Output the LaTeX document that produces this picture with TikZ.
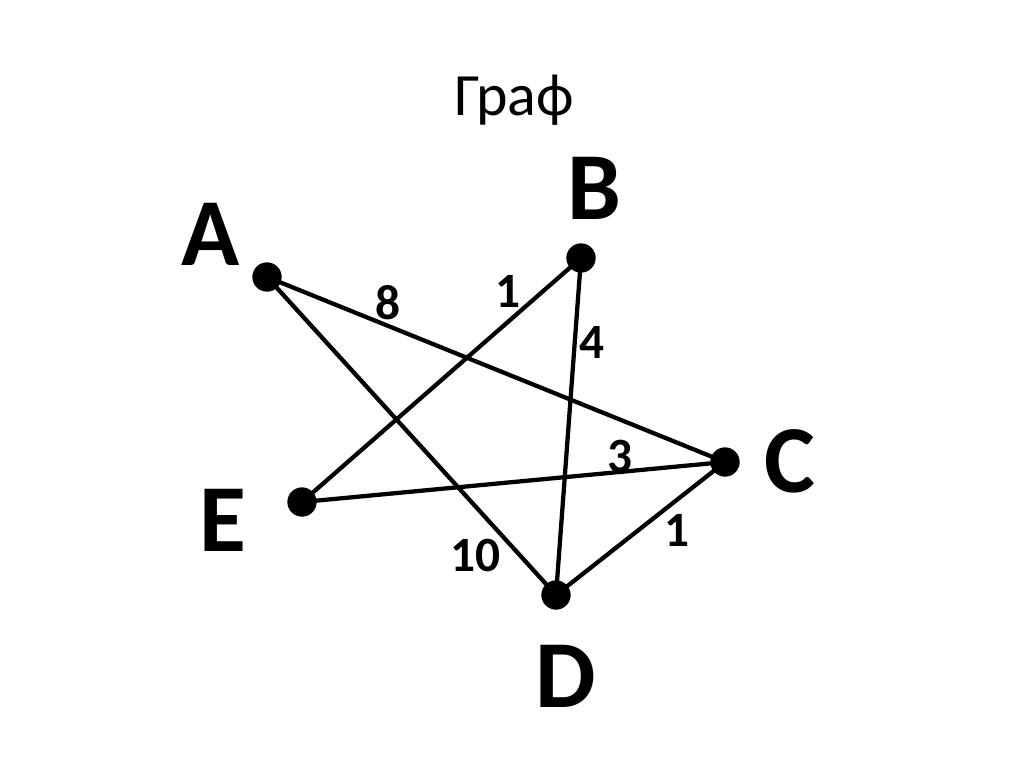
\documentclass[tikz,border=0pt]{standalone}
\usepackage{fontspec}
\setmainfont{Carlito}
\begin{document}
\begin{tikzpicture}[x=0.75pt,y=-0.75pt,
  vtx/.style={circle,fill=black,inner sep=0pt,minimum size=22pt},
  lbl/.style={font=\fontsize{72}{76}\selectfont\bfseries,inner sep=0pt},
  wt/.style={font=\fontsize{37}{40}\selectfont\bfseries,inner sep=0pt},
  edge/.style={line width=3.2pt}]
\useasboundingbox (0,0) rectangle (1024,768);
\node[anchor=base,font=\fontsize{45}{50}\selectfont,inner sep=0pt] (title) at (514,115) {Граф};
\node[vtx] (A) at (267,277) {};
\node[vtx] (B) at (581,258) {};
\node[vtx] (C) at (725,462) {};
\node[vtx] (D) at (556,595) {};
\node[vtx] (E) at (302,502) {};
\node[lbl] (lA) at (211,234) {A};
\node[lbl] (lB) at (594,188) {B};
\node[lbl] (lC) at (790,461) {C};
\node[lbl] (lD) at (566,676) {D};
\node[lbl] (lE) at (223,520) {E};
\draw[edge] (A.center) -- (C.center);
\draw[edge] (A.center) -- (D.center);
\draw[edge] (B.center) -- (E.center);
\draw[edge] (B.center) -- (D.center);
\draw[edge] (E.center) -- (C.center);
\draw[edge] (C.center) -- (D.center);
\node[wt] (w8) at (388,303) {8};
\node[wt] (w1a) at (508,291) {1};
\node[wt] (w4) at (592,342) {4};
\node[wt] (w3) at (620,456) {3};
\node[wt] (w1b) at (677,530) {1};
\node[wt] (w10) at (475,555) {10};
\end{tikzpicture}
\end{document}
